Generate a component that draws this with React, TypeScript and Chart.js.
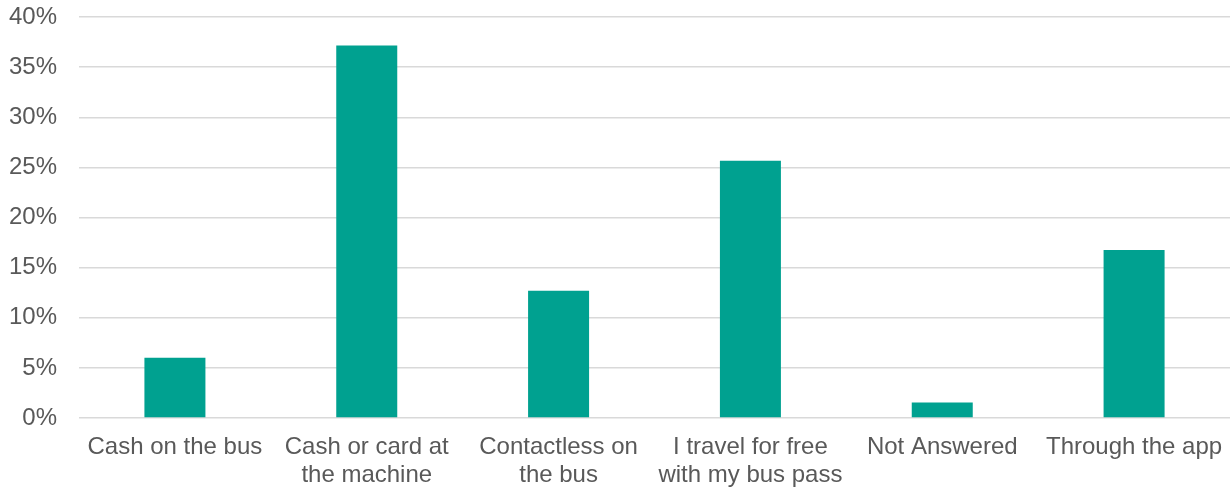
import React, { useEffect, useRef } from "react";
import { Chart, registerables } from "chart.js";

Chart.register(...registerables);

// How respondents paid for their journey (% of respondents)
const categories: (string | string[])[] = [
  "Cash on the bus",
  ["Cash or card at", "the machine"],
  ["Contactless on", "the bus"],
  ["I travel for free", "with my bus pass"],
  "Not Answered",
  "Through the app",
];
const shares: number[] = [6.0, 37.15, 12.7, 25.65, 1.55, 16.75];

const yMin = 0;
const yMax = 40;
const yStep = 5;

const barColor = "#00A190";
const gridColor = "#D9D9D9";
const textColor = "#595959";
const fontFamily = "'Liberation Sans', Arial, sans-serif";

export default function App() {
  const canvasRef = useRef<HTMLCanvasElement | null>(null);

  useEffect(() => {
    document.body.style.margin = "0";
    const canvas = canvasRef.current;
    if (!canvas) return;
    const chart = new Chart(canvas, {
      type: "bar",
      data: {
        labels: categories,
        datasets: [
          {
            data: shares,
            backgroundColor: barColor,
            borderWidth: 0,
            categoryPercentage: 1,
            barPercentage: 0.318,
          },
        ],
      },
      options: {
        animation: false,
        responsive: false,
        maintainAspectRatio: false,
        layout: { padding: { top: 17, right: 0, left: 0, bottom: 0 } },
        plugins: {
          legend: { display: false },
          tooltip: { enabled: false },
        },
        scales: {
          x: {
            grid: { display: false, drawTicks: false },
            border: { display: false },
            ticks: {
              color: textColor,
              font: { family: fontFamily, size: 24, lineHeight: 1.17 },
              padding: 15,
              maxRotation: 0,
              autoSkip: false,
            },
            afterFit: (scale: any) => {
              scale.height = 71;
              scale.paddingLeft = 0;
              scale.paddingRight = 0;
            },
          },
          y: {
            min: yMin,
            max: yMax,
            grid: { color: gridColor, lineWidth: 1.5, drawTicks: false },
            border: { display: false },
            ticks: {
              stepSize: yStep,
              color: textColor,
              font: { family: fontFamily, size: 24 },
              padding: 22,
              callback: (v: any) => `${v}%`,
            },
            afterFit: (scale: any) => {
              scale.width = 79;
              scale.paddingTop = 0;
              scale.paddingBottom = 0;
            },
          },
        },
      },
    });
    return () => chart.destroy();
  }, []);

  return (
    <div style={{ width: 1230, height: 489 }}>
      <canvas ref={canvasRef} width={1230} height={489} style={{ display: "block" }} />
    </div>
  );
}
